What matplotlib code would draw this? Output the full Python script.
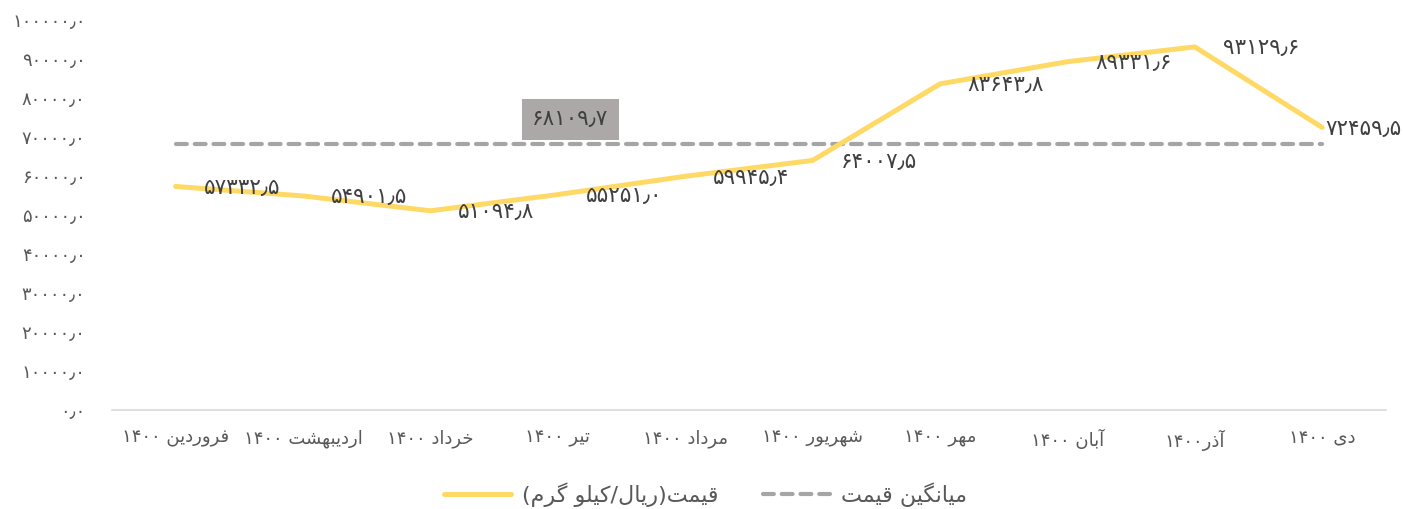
import numpy as np
import matplotlib.pyplot as plt

# ماه‌ها و قیمت میانگین ماهانه (ریال بر کیلوگرم)
months = ['فروردین ۱۴۰۰', 'اردیبهشت ۱۴۰۰', 'خرداد ۱۴۰۰', 'تیر ۱۴۰۰', 'مرداد ۱۴۰۰',
          'شهریور ۱۴۰۰', 'مهر ۱۴۰۰', 'آبان ۱۴۰۰', 'آذر۱۴۰۰', 'دی ۱۴۰۰']
prices = [57332.5, 54901.5, 51094.8, 55251.0, 59945.4,
          64007.5, 83643.8, 89331.6, 93129.6, 72459.5]
avg_price = 68109.7
yticks = [0, 10000, 20000, 30000, 40000, 50000, 60000, 70000, 80000, 90000, 100000]
legend_labels = ['قیمت(ریال/کیلو گرم)', 'میانگین قیمت']

# شکل‌های حروف: جدا، پایانی، آغازی، میانی
FORMS = {
    'ا': (0xFE8D, 0xFE8E, None, None), 'آ': (0xFE81, 0xFE82, None, None),
    'ب': (0xFE8F, 0xFE90, 0xFE91, 0xFE92), 'ت': (0xFE95, 0xFE96, 0xFE97, 0xFE98),
    'خ': (0xFEA5, 0xFEA6, 0xFEA7, 0xFEA8), 'د': (0xFEA9, 0xFEAA, None, None),
    'ذ': (0xFEAB, 0xFEAC, None, None), 'ر': (0xFEAD, 0xFEAE, None, None),
    'ش': (0xFEB5, 0xFEB6, 0xFEB7, 0xFEB8), 'ف': (0xFED1, 0xFED2, 0xFED3, 0xFED4),
    'ق': (0xFED5, 0xFED6, 0xFED7, 0xFED8), 'ل': (0xFEDD, 0xFEDE, 0xFEDF, 0xFEE0),
    'م': (0xFEE1, 0xFEE2, 0xFEE3, 0xFEE4), 'ن': (0xFEE5, 0xFEE6, 0xFEE7, 0xFEE8),
    'ه': (0xFEE9, 0xFEEA, 0xFEEB, 0xFEEC), 'و': (0xFEED, 0xFEEE, None, None),
    'ی': (0xFBFC, 0xFBFD, 0xFBFE, 0xFBFF), 'ک': (0xFB8E, 0xFB8F, 0xFB90, 0xFB91),
    'گ': (0xFB92, 0xFB93, 0xFB94, 0xFB95),
}
DIGITS = set('۰۱۲۳۴۵۶۷۸۹٫0123456789.')


def fa(text):
    """شکل‌دهی حروف و چینش راست‌به‌چپ برای matplotlib"""
    out = []
    n = len(text)
    for i, ch in enumerate(text):
        if ch not in FORMS:
            out.append(ch)
            continue
        prev = text[i - 1] if i > 0 else ''
        nxt = text[i + 1] if i < n - 1 else ''
        j_prev = prev in FORMS and FORMS[prev][2] is not None
        j_next = nxt in FORMS and FORMS[ch][2] is not None
        iso, fin, ini, med = FORMS[ch]
        if j_prev and j_next:
            out.append(chr(med))
        elif j_prev:
            out.append(chr(fin))
        elif j_next:
            out.append(chr(ini))
        else:
            out.append(chr(iso))
    s = ''.join(out)[::-1]
    s = s.translate(str.maketrans('()', ')('))
    # اعداد چپ‌به‌راست می‌مانند
    res, run = [], ''
    for ch in s:
        if ch in DIGITS:
            run += ch
        else:
            res.append(run[::-1])
            run = ''
            res.append(ch)
    res.append(run[::-1])
    return ''.join(res)


def fa_num(v, nd=1):
    s = f'{v:.{nd}f}'.replace('.', '٫')
    return s.translate(str.maketrans('0123456789', '۰۱۲۳۴۵۶۷۸۹'))


plt.rcParams['font.family'] = ['DejaVu Sans']
txt_color = '#595959'

fig = plt.figure(figsize=(14.03, 5.09), dpi=100)
ax = fig.add_axes([0.0798, 0.1945, 0.908, 0.766])

x = np.arange(len(months))
ax.plot(x, prices, color='#FFD966', lw=3.6, solid_capstyle='round',
        solid_joinstyle='round', label=fa(legend_labels[0]), zorder=3)
ax.plot(x, [avg_price] * len(x), color='#A5A5A5', lw=3.0, ls=(0, (2.6, 1.9)),
        dash_capstyle='round', label=fa(legend_labels[1]), zorder=2)

# برچسب مقادیر
for i, v in enumerate(prices):
    dx = 20 if i < len(prices) - 1 else 2
    ax.annotate(fa_num(v), (i, v), xytext=(dx, -1), textcoords='offset points',
                ha='left', va='center', fontsize=15.5, color='#404040', zorder=4)

# برچسب میانگین
ax.annotate(fa_num(avg_price), (3, avg_price), xytext=(9, 18), textcoords='offset points',
            ha='center', va='center', fontsize=15.5, color='#404040',
            bbox=dict(boxstyle='square,pad=0.47', fc='#ABA8A7', ec='none'))

ax.set_xlim(-0.5, len(months) - 0.5)
ax.set_ylim(0, 100000)
ax.set_xticks(x)
ax.set_xticklabels([fa(m) for m in months], fontsize=13, color=txt_color)
ax.set_yticks(yticks)
ax.set_yticklabels([fa_num(t) for t in yticks], fontsize=13, color=txt_color,
                   va='center_baseline')
ax.tick_params(axis='both', length=0)
ax.tick_params(axis='x', pad=14)
ax.tick_params(axis='y', pad=19)

for side in ['top', 'right', 'left']:
    ax.spines[side].set_visible(False)
ax.spines['bottom'].set_color('#D9D9D9')
ax.spines['bottom'].set_linewidth(1.2)

fig.legend(loc='center', bbox_to_anchor=(0.503, 0.028), ncol=2, frameon=False,
           fontsize=16, handlelength=3.0, handletextpad=0.5, columnspacing=2.0,
           labelcolor=txt_color)

fig.savefig('out.png', dpi=100)
